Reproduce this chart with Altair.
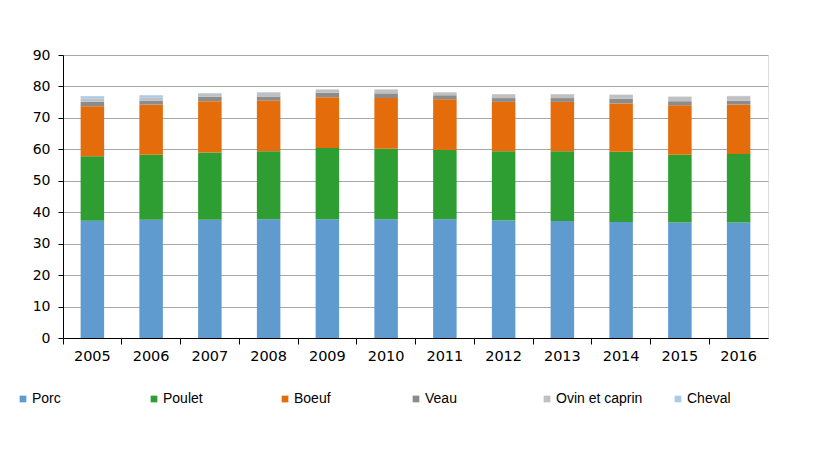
import altair as alt
import pandas as pd

years = ["2005", "2006", "2007", "2008", "2009", "2010", "2011", "2012", "2013", "2014", "2015", "2016"]
categories = ["Porc", "Poulet", "Boeuf", "Veau", "Ovin et caprin", "Cheval"]
colors = ["#5f9bcf", "#2e9e32", "#e46c0a", "#8c8c8c", "#c0c0c0", "#a9cbe9"]

porc = [37.3, 37.6, 37.6, 37.8, 37.8, 37.8, 37.8, 37.4, 37.2, 36.9, 36.7, 36.7]
poulet = [20.5, 20.7, 21.4, 21.6, 22.6, 22.4, 22.0, 22.0, 22.2, 22.3, 21.6, 21.8]
boeuf = [15.9, 15.9, 16.3, 16.1, 16.2, 16.1, 16.1, 15.7, 15.7, 15.4, 15.7, 15.7]
veau = [1.4, 1.2, 1.4, 1.3, 1.4, 1.5, 1.3, 1.2, 1.2, 1.5, 1.3, 1.3]
ovin = [1.0, 1.0, 1.0, 1.2, 1.0, 1.2, 0.9, 1.2, 1.2, 1.2, 1.4, 1.4]
cheval = [0.8, 0.8, 0.2, 0.2, 0.1, 0.1, 0.1, 0.1, 0.1, 0.1, 0.1, 0.1]

series = [porc, poulet, boeuf, veau, ovin, cheval]
rows = []
for ci, (cat, vals) in enumerate(zip(categories, series)):
    for y, v in zip(years, vals):
        rows.append({"annee": y, "viande": cat, "valeur": v, "ordre": ci})
df = pd.DataFrame(rows)

bars = alt.Chart(df).mark_bar().encode(
    x=alt.X("annee:N", title=None,
            scale=alt.Scale(paddingInner=0.6, paddingOuter=0.3),
            axis=alt.Axis(labelAngle=0, bandPosition=-0.75, ticks=True, tickSize=6,
                          tickColor="#000", domainColor="#000", labelColor="#000",
                          labelFont="DejaVu Sans", labelFontSize=14.5, labelPadding=5)),
    y=alt.Y("valeur:Q", title=None, stack="zero",
            scale=alt.Scale(domain=[0, 90], nice=False),
            axis=alt.Axis(values=list(range(0, 91, 10)), tickSize=5, tickColor="#000",
                          domainColor="#000", labelColor="#000", gridColor="#a6a6a6",
                          labelFont="DejaVu Sans", labelFontSize=14, labelPadding=8)),
    color=alt.Color("viande:N", scale=alt.Scale(domain=categories, range=colors),
                    sort=categories,
                    legend=alt.Legend(title=None, orient="none", legendX=-47, legendY=337,
                                      direction="horizontal", columns=6, gridAlign="all",
                                      symbolType="square", symbolSize=45, symbolStrokeWidth=0,
                                      labelFont="Liberation Sans", labelFontSize=14,
                                      labelColor="#000", columnPadding=28, symbolOffset=0,
                                      labelOffset=2, labelLimit=200)),
    order=alt.Order("ordre:Q", sort="ascending"),
)

chart = bars.properties(
    width=705, height=283,
    autosize=alt.AutoSizeParams(type="none"),
    padding={"left": 55, "top": 47, "right": 44, "bottom": 115},
).configure_view(stroke="#666", strokeWidth=1).configure(background="#ffffff")

chart.save("out.html", embed_options={"renderer": "svg", "actions": False})
